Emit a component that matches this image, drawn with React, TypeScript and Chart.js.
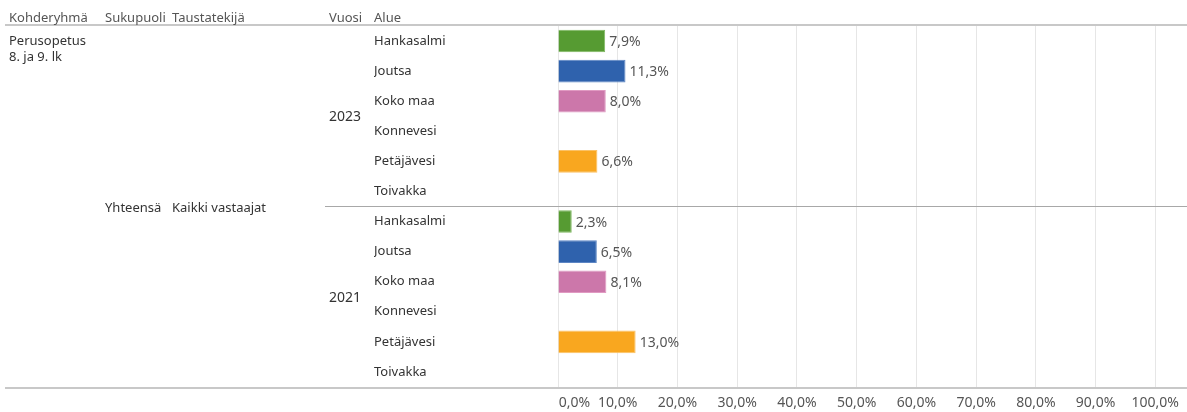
import React, { useEffect, useRef } from "react";
import { Chart, registerables } from "chart.js";

Chart.register(...registerables);

const areas = ["Hankasalmi", "Joutsa", "Koko maa", "Konnevesi", "Petäjävesi", "Toivakka"];
const years = ["2023", "2021"];
const values2023: (number | null)[] = [7.9, 11.3, 8.0, null, 6.6, null];
const values2021: (number | null)[] = [2.3, 6.5, 8.1, null, 13.0, null];
const areaColors = ["#569b32", "#2f62ad", "#cc77aa", "#8c8c8c", "#f9a71f", "#8c8c8c"];
const areaBorders = ["#7fb862", "#5d86c4", "#e09ac2", "#aaaaaa", "#fbc266", "#aaaaaa"];
const xTicks = [0, 10, 20, 30, 40, 50, 60, 70, 80, 90, 100];

const FONT = "'Noto Sans', sans-serif";

const fmt = (v: number) => v.toFixed(1).replace(".", ",") + "%";

const labelPlugin = {
  id: "valueLabels",
  afterDatasetsDraw(chart: any) {
    const ctx = chart.ctx;
    const meta = chart.getDatasetMeta(0);
    const data = chart.data.datasets[0].data;
    ctx.save();
    ctx.font = `14px ${FONT}`;
    ctx.fillStyle = "#555555";
    ctx.textBaseline = "middle";
    ctx.textAlign = "left";
    meta.data.forEach((el: any, i: number) => {
      const v = data[i];
      if (v === null || v === undefined) return;
      ctx.fillText(fmt(v), el.x + 4, el.y + 1);
    });
    ctx.restore();
  },
};

const linesPlugin = {
  id: "tableLines",
  afterDraw(chart: any) {
    const ctx = chart.ctx;
    const area = chart.chartArea;
    const y = chart.scales.y;
    const n = areas.length;
    const sepY = Math.round((y.getPixelForValue(n - 1) + y.getPixelForValue(n)) / 2) - 0.5;
    ctx.save();
    ctx.strokeStyle = "#c8c8c8";
    ctx.lineWidth = 2;
    ctx.beginPath();
    ctx.moveTo(5, area.top - 1);
    ctx.lineTo(chart.width, area.top - 1);
    ctx.moveTo(5, area.bottom + 1);
    ctx.lineTo(chart.width, area.bottom + 1);
    ctx.stroke();
    ctx.strokeStyle = "#a8a8a8";
    ctx.lineWidth = 1;
    ctx.beginPath();
    ctx.moveTo(325, sepY);
    ctx.lineTo(chart.width, sepY);
    ctx.stroke();
    ctx.restore();
  },
};

const textStyle: React.CSSProperties = {
  position: "absolute",
  fontFamily: FONT,
  fontSize: "13px",
  lineHeight: "16px",
  whiteSpace: "nowrap",
};

export default function App() {
  const ref = useRef<HTMLCanvasElement>(null);

  useEffect(() => {
    if (!ref.current) return;
    const labels = [...areas, ...areas];
    const data = [...values2023, ...values2021];
    const colors = [...areaColors, ...areaColors];
    const borders = [...areaBorders, ...areaBorders];
    const chart = new Chart(ref.current, {
      type: "bar",
      data: {
        labels,
        datasets: [
          {
            data: data as any,
            backgroundColor: colors,
            borderColor: borders,
            borderWidth: 1,
            barPercentage: 0.75,
            categoryPercentage: 1,
          },
        ],
      },
      options: {
        indexAxis: "y",
        animation: false,
        responsive: false,
        maintainAspectRatio: false,
        layout: { padding: { left: 374, top: 26, right: 29, bottom: 0 } },
        plugins: { legend: { display: false }, tooltip: { enabled: false } },
        scales: {
          x: {
            min: 0,
            max: 100,
            afterBuildTicks: (scale: any) => {
              scale.ticks = xTicks.map((v) => ({ value: v }));
            },
            afterFit: (scale: any) => {
              scale.height = 25;
            },
            grid: { color: "#e6e6e6", drawTicks: false, lineWidth: 1 },
            border: { display: false },
            ticks: {
              padding: 8,
              color: "#555555",
              font: { family: FONT, size: 14 },
              maxRotation: 0,
              autoSkip: false,
              callback: (v: any) => {
                const s = fmt(Number(v));
                return Number(v) === 0 ? "         " + s : s;
              },
            },
          },
          y: {
            afterFit: (scale: any) => {
              scale.width = 558 - 374;
            },
            grid: { display: false },
            border: { display: false },
            ticks: {
              crossAlign: "far",
              color: "#333333",
              font: { family: FONT, size: 13 },
              autoSkip: false,
              padding: 0,
            },
          },
        },
      },
      plugins: [labelPlugin, linesPlugin],
    });
    return () => chart.destroy();
  }, []);

  return (
    <div style={{ position: "fixed", left: 0, top: 0, width: 1187, height: 412, background: "#fff" }}>
      <canvas ref={ref} width={1187} height={412} style={{ position: "absolute", left: 0, top: 0 }} />
      <div style={{ ...textStyle, left: 9, top: 9, color: "#555" }}>Kohderyhmä</div>
      <div style={{ ...textStyle, left: 105, top: 9, color: "#555" }}>Sukupuoli</div>
      <div style={{ ...textStyle, left: 172, top: 9, color: "#555" }}>Taustatekijä</div>
      <div style={{ ...textStyle, left: 329, top: 9, color: "#555" }}>Vuosi</div>
      <div style={{ ...textStyle, left: 374, top: 9, color: "#555" }}>Alue</div>
      <div style={{ ...textStyle, left: 9, top: 32, color: "#333" }}>
        Perusopetus
        <br />
        8. ja 9. lk
      </div>
      <div style={{ ...textStyle, left: 105, top: 199, color: "#333" }}>Yhteensä</div>
      <div style={{ ...textStyle, left: 172, top: 199, color: "#333" }}>Kaikki vastaajat</div>
      <div style={{ ...textStyle, left: 329, top: 108, color: "#333", fontSize: "14px" }}>{years[0]}</div>
      <div style={{ ...textStyle, left: 329, top: 289, color: "#333", fontSize: "14px" }}>{years[1]}</div>
    </div>
  );
}
